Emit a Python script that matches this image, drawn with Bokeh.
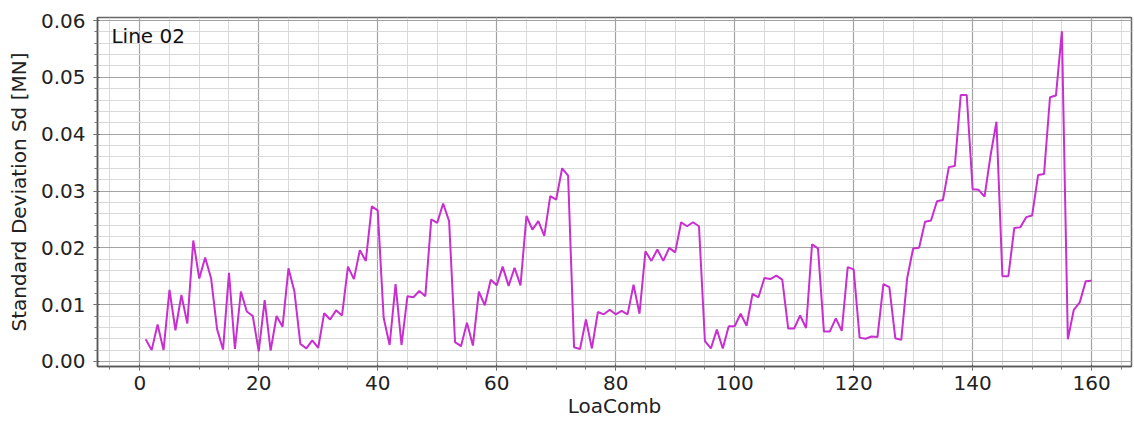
from bokeh.plotting import figure
from bokeh.models import SingleIntervalTicker, NumeralTickFormatter, Range1d, Label
from bokeh.embed import file_html
from bokeh.resources import INLINE

load_comb = list(range(1, 161))
std_dev = [
    0.0039, 0.0020, 0.0065, 0.0020, 0.0126, 0.0055, 0.0117, 0.0067, 0.0213, 0.0146,
    0.0183, 0.0146, 0.0057, 0.0021, 0.0156, 0.0022, 0.0123, 0.0088, 0.0080, 0.0018,
    0.0108, 0.0019, 0.0080, 0.0061, 0.0164, 0.0123, 0.0031, 0.0023, 0.0037, 0.0024,
    0.0085, 0.0074, 0.0090, 0.0081, 0.0167, 0.0145, 0.0196, 0.0177, 0.0273, 0.0266,
    0.0077, 0.0029, 0.0136, 0.0029, 0.0115, 0.0113, 0.0124, 0.0115, 0.0250, 0.0244,
    0.0278, 0.0247, 0.0034, 0.0027, 0.0068, 0.0028, 0.0123, 0.0099, 0.0144, 0.0134,
    0.0167, 0.0133, 0.0165, 0.0134, 0.0256, 0.0232, 0.0247, 0.0221, 0.0291, 0.0285,
    0.0340, 0.0327, 0.0025, 0.0022, 0.0074, 0.0023, 0.0087, 0.0083, 0.0091, 0.0083,
    0.0089, 0.0083, 0.0135, 0.0084, 0.0194, 0.0177, 0.0197, 0.0177, 0.0200, 0.0192,
    0.0245, 0.0238, 0.0245, 0.0238, 0.0036, 0.0023, 0.0056, 0.0023, 0.0062, 0.0062,
    0.0084, 0.0063, 0.0119, 0.0113, 0.0147, 0.0145, 0.0151, 0.0144, 0.0058, 0.0058,
    0.0081, 0.0059, 0.0206, 0.0199, 0.0053, 0.0053, 0.0076, 0.0054, 0.0166, 0.0162,
    0.0042, 0.0040, 0.0044, 0.0043, 0.0136, 0.0131, 0.0041, 0.0038, 0.0147, 0.0199,
    0.0200, 0.0246, 0.0248, 0.0282, 0.0284, 0.0342, 0.0344, 0.0469, 0.0469, 0.0303,
    0.0302, 0.0290, 0.0362, 0.0422, 0.0150, 0.0150, 0.0235, 0.0236, 0.0254, 0.0257,
    0.0328, 0.0330, 0.0465, 0.0468, 0.0581, 0.0039, 0.0091, 0.0104, 0.0141, 0.0142,
]
x_label = "LoaComb"
y_label = "Standard Deviation Sd [MN]"
series_name = "Line 02"

FONT = "DejaVu Sans"

p = figure(width=1134, height=423, output_backend="svg", toolbar_location=None,
           x_range=Range1d(-7.1, 166.7), y_range=Range1d(-0.00088, 0.06053),
           min_border_left=97, min_border_right=3, min_border_top=17, min_border_bottom=57)
p.background_fill_color = "white"
p.border_fill_color = "white"
p.outline_line_color = "#666666"
p.outline_line_width = 1.5

p.line(load_comb, std_dev, line_color="#c82ed0", line_width=2)

xt = SingleIntervalTicker(interval=20, num_minor_ticks=4)
yt = SingleIntervalTicker(interval=0.01, num_minor_ticks=5)
p.xaxis.ticker = xt
p.yaxis.ticker = yt
p.xgrid.ticker = xt
p.ygrid.ticker = yt
p.yaxis.formatter = NumeralTickFormatter(format="0.00")

for g in (p.xgrid, p.ygrid):
    g.grid_line_color = "#999999"
    g.grid_line_alpha = 0.85
    g.grid_line_width = 1.2
    g.minor_grid_line_color = "#d9d9d9"
    g.minor_grid_line_width = 1

for ax in (p.xaxis, p.yaxis):
    ax.axis_line_color = "#555555"
    ax.axis_line_width = 1.5
    ax.major_tick_line_color = "#555555"
    ax.minor_tick_line_color = "#777777"
    ax.major_tick_out = 4
    ax.major_tick_in = 2
    ax.minor_tick_out = 3
    ax.minor_tick_in = 0
    ax.major_label_text_font = FONT
    ax.major_label_text_font_size = "20px"
    ax.major_label_text_color = "#222222"
    ax.axis_label_text_font = FONT
    ax.axis_label_text_font_size = "20px"
    ax.axis_label_text_font_style = "normal"
    ax.axis_label_text_color = "#222222"

p.xaxis.axis_label = x_label
p.yaxis.axis_label = y_label
p.xaxis.major_label_standoff = 5
p.xaxis.axis_label_standoff = 1
p.yaxis.major_label_standoff = 8
p.yaxis.axis_label_standoff = 7

p.add_layout(Label(x=-4.75, y=0.05736, text=series_name, text_font=FONT,
                   text_font_size="20px", text_color="#111111",
                   text_align="left", text_baseline="middle"))

open("out.html", "w").write(file_html(p, INLINE))
